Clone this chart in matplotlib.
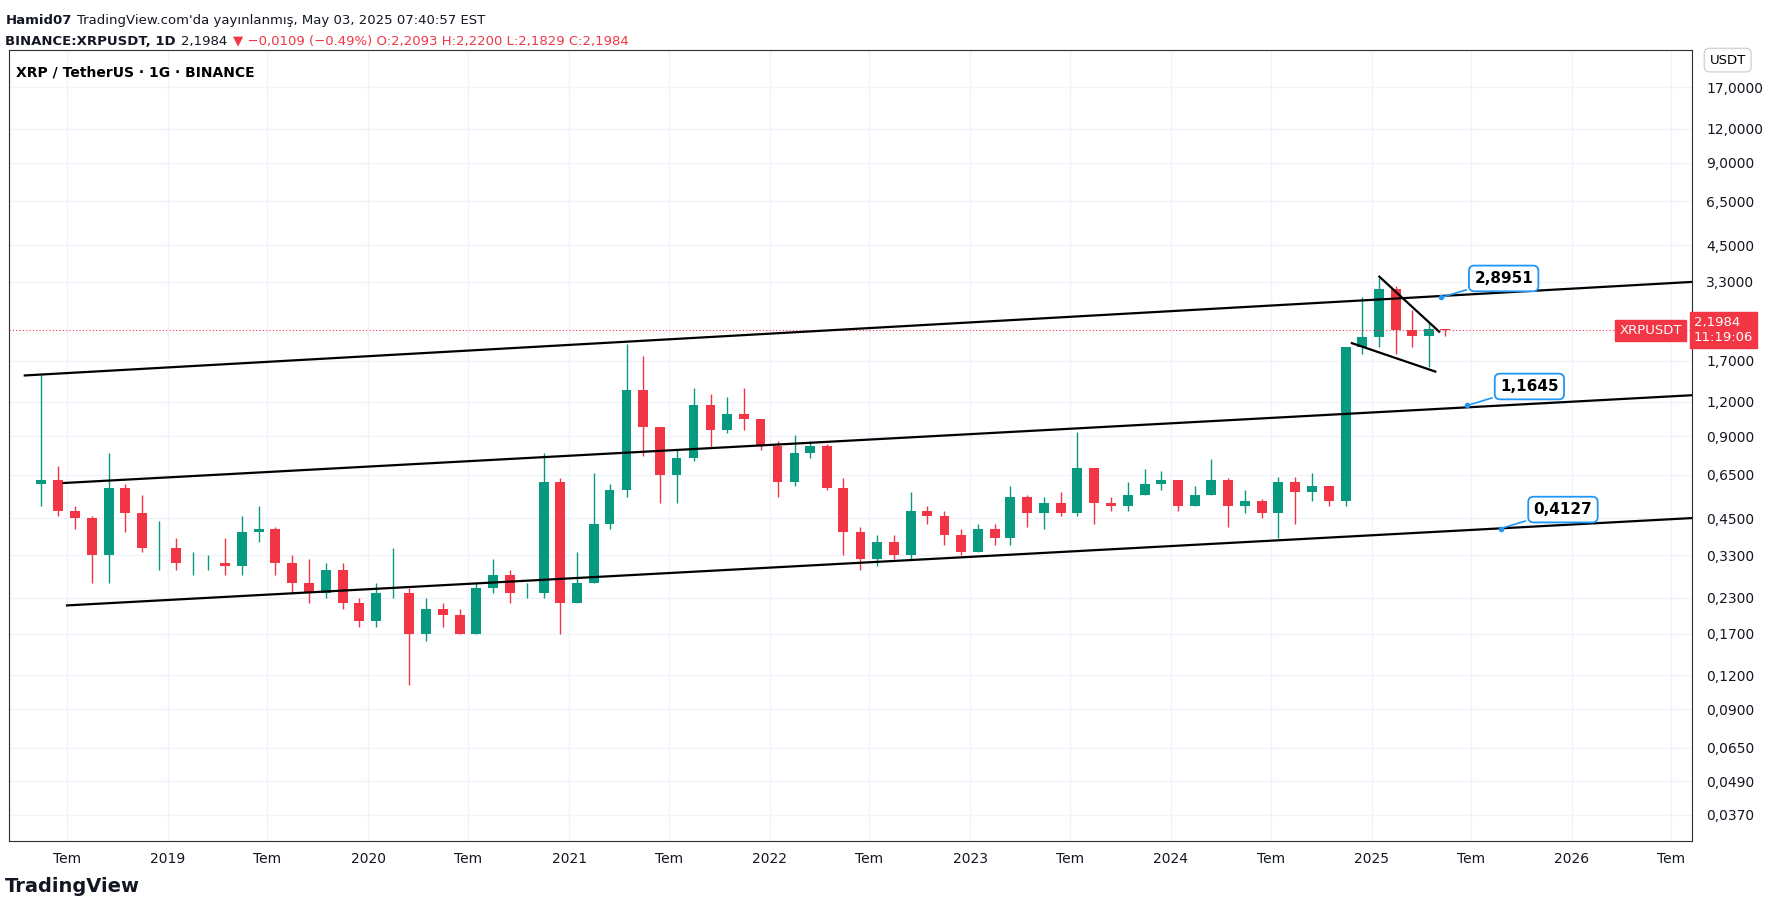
import matplotlib
matplotlib.use("Agg")
import matplotlib.pyplot as plt
import matplotlib.dates as mdates
import datetime as dt

plt.rcParams['font.family'] = 'DejaVu Sans'

# monthly candles
months = ['2018-05', '2018-06', '2018-07', '2018-08', '2018-09', '2018-10', '2018-11', '2018-12',
          '2019-01', '2019-02', '2019-03', '2019-04', '2019-05', '2019-06', '2019-07', '2019-08',
          '2019-09', '2019-10', '2019-11', '2019-12', '2020-01', '2020-02', '2020-03', '2020-04',
          '2020-05', '2020-06', '2020-07', '2020-08', '2020-09', '2020-10', '2020-11', '2020-12',
          '2021-01', '2021-02', '2021-03', '2021-04', '2021-05', '2021-06', '2021-07', '2021-08',
          '2021-09', '2021-10', '2021-11', '2021-12', '2022-01', '2022-02', '2022-03', '2022-04',
          '2022-05', '2022-06', '2022-07', '2022-08', '2022-09', '2022-10', '2022-11', '2022-12',
          '2023-01', '2023-02', '2023-03', '2023-04', '2023-05', '2023-06', '2023-07', '2023-08',
          '2023-09', '2023-10', '2023-11', '2023-12', '2024-01', '2024-02', '2024-03', '2024-04',
          '2024-05', '2024-06', '2024-07', '2024-08', '2024-09', '2024-10', '2024-11', '2024-12',
          '2025-01', '2025-02', '2025-03', '2025-04', '2025-05']
opens = [0.60, 0.62, 0.48, 0.45, 0.33, 0.58, 0.47, 0.35, 0.35, 0.31, 0.31, 0.31, 0.30, 0.40, 0.41, 0.31,
         0.26, 0.24, 0.29, 0.22, 0.19, 0.24, 0.24, 0.17, 0.21, 0.20, 0.17, 0.25, 0.28, 0.24, 0.24, 0.61,
         0.22, 0.26, 0.43, 0.57, 1.33, 0.97, 0.65, 0.75, 1.17, 0.95, 1.08, 1.04, 0.83, 0.61, 0.78, 0.83,
         0.58, 0.40, 0.32, 0.37, 0.33, 0.48, 0.46, 0.39, 0.34, 0.41, 0.38, 0.54, 0.47, 0.51, 0.47, 0.69,
         0.51, 0.50, 0.55, 0.60, 0.62, 0.50, 0.55, 0.62, 0.50, 0.52, 0.47, 0.61, 0.56, 0.59, 0.52, 1.90,
         2.08, 3.11, 2.20, 2.09, 2.21]
highs = [1.50, 0.70, 0.50, 0.46, 0.78, 0.60, 0.55, 0.44, 0.38, 0.34, 0.33, 0.38, 0.46, 0.50, 0.42, 0.33,
         0.32, 0.31, 0.31, 0.23, 0.26, 0.35, 0.25, 0.23, 0.22, 0.21, 0.26, 0.32, 0.29, 0.26, 0.78, 0.63,
         0.34, 0.66, 0.60, 1.96, 1.76, 0.96, 0.80, 1.35, 1.28, 1.25, 1.35, 1.04, 0.86, 0.91, 0.86, 0.84,
         0.63, 0.42, 0.39, 0.39, 0.56, 0.50, 0.48, 0.41, 0.43, 0.43, 0.59, 0.55, 0.54, 0.56, 0.93, 0.69,
         0.54, 0.61, 0.68, 0.67, 0.62, 0.59, 0.74, 0.63, 0.57, 0.53, 0.64, 0.64, 0.66, 0.59, 1.90, 2.90,
         3.40, 3.20, 2.60, 2.35, 2.22]
lows = [0.50, 0.46, 0.41, 0.26, 0.26, 0.40, 0.34, 0.29, 0.29, 0.28, 0.29, 0.28, 0.28, 0.37, 0.28, 0.24,
        0.22, 0.23, 0.21, 0.18, 0.18, 0.23, 0.11, 0.16, 0.18, 0.17, 0.17, 0.24, 0.22, 0.23, 0.23, 0.17,
        0.22, 0.26, 0.41, 0.54, 0.76, 0.51, 0.51, 0.73, 0.82, 0.92, 0.95, 0.80, 0.54, 0.59, 0.75, 0.57,
        0.33, 0.29, 0.30, 0.32, 0.32, 0.43, 0.36, 0.33, 0.34, 0.36, 0.36, 0.42, 0.41, 0.46, 0.46, 0.43,
        0.48, 0.48, 0.55, 0.57, 0.48, 0.50, 0.55, 0.42, 0.47, 0.45, 0.38, 0.43, 0.52, 0.50, 0.50, 1.80,
        1.90, 1.80, 1.90, 1.61, 2.10]
closes = opens[1:] + [2.1984]

# trend lines (date, price)
upper_line = (['2018-04-15', '2026-08-08'], [1.50, 3.30])
mid_line = (['2018-06-25', '2026-08-08'], [0.606, 1.27])
low_line = (['2018-07-01', '2026-08-08'], [0.216, 0.451])
tri_top = (['2025-01-15', '2025-05-04'], [3.45, 2.17])
tri_bot = (['2024-11-26', '2025-04-27'], [1.97, 1.55])
callouts = [('2025-05-08', 2.8951, '2,8951'), ('2025-06-24', 1.1645, '1,1645'),
            ('2025-08-24', 0.4127, '0,4127')]
yticks = [0.037, 0.049, 0.065, 0.09, 0.12, 0.17, 0.23, 0.33, 0.45, 0.65, 0.9, 1.2, 1.7, 3.3, 4.5,
          6.5, 9.0, 12.0, 17.0]
last_price = 2.1984

def d(s):
    return mdates.date2num(dt.datetime.strptime(s, '%Y-%m-%d'))

W, H = 1772, 909
fig = plt.figure(figsize=(W / 100, H / 100), dpi=100)
ax = fig.add_axes([0.005, 0.075, 0.95, 0.87])
ax.set_yscale('log')
ax.set_ylim(0.0297, 23.3)
ax.set_xlim(d('2018-03-17'), d('2026-08-08'))
ax.set_axisbelow(True)

green, red = '#089981', '#f23645'
for m, o, h, l, c in zip(months, opens, highs, lows, closes):
    x = d(m + '-15')
    col = green if c >= o else red
    ax.vlines(x, l, h, color=col, lw=1, zorder=2)
    ax.bar(x, abs(c - o), bottom=min(o, c), width=18, color=col, lw=0, zorder=2)

for dates, vals in [upper_line, mid_line, low_line, tri_top, tri_bot]:
    ax.plot([d(s) for s in dates], vals, color='black', lw=1.6, zorder=3)

for ds, v, txt in callouts:
    x = d(ds)
    ax.plot(x, v, 'o', color='#2196f3', ms=3, zorder=4)
    ax.annotate(txt, xy=(x, v), xytext=(x + 60, v * 1.13), fontsize=11, fontweight='bold',
                bbox=dict(boxstyle='round,pad=0.35', fc='white', ec='#2196f3', lw=1.3),
                arrowprops=dict(arrowstyle='-', color='#2196f3', lw=1.2))

ax.axhline(last_price, color=red, lw=0.8, ls=(0, (1, 2)))

ax.yaxis.tick_right()
ax.set_yticks(yticks)
ax.set_yticklabels([('%.4f' % t).replace('.', ',') for t in yticks])
ax.yaxis.set_minor_locator(matplotlib.ticker.NullLocator())
ax.tick_params(axis='y', length=0, labelsize=10, colors='#131722', pad=10)

xt, xl = [], []
for yr in range(2018, 2027):
    if yr > 2018:
        xt.append(d('%d-01-01' % yr)); xl.append(str(yr))
    xt.append(d('%d-07-01' % yr)); xl.append('Tem')
ax.set_xticks(xt)
ax.set_xticklabels(xl, fontsize=10, color='#131722')
ax.tick_params(axis='x', length=0, pad=8)
ax.grid(True, color='#f0f3fa', lw=1)
for s in ax.spines.values():
    s.set_color('#2a2e39'); s.set_linewidth(0.8)

yl = ax.transData.transform((0, last_price))[1] / H
ax.text(0.956, yl, '2,1984\n11:19:06', transform=fig.transFigure, fontsize=9.5, color='white',
        va='center', ha='left', bbox=dict(fc=red, ec=red, boxstyle='square,pad=0.3'))
ax.text(0.949, yl, 'XRPUSDT', transform=fig.transFigure, fontsize=9.5, color='white',
        va='center', ha='right', bbox=dict(fc=red, ec=red, boxstyle='square,pad=0.3'))
ax.text(0.975, 0.93, 'USDT', transform=fig.transFigure, fontsize=9.5, ha='center',
        bbox=dict(fc='white', ec='#d1d4dc', boxstyle='round,pad=0.4'))

renderer = fig.canvas.get_renderer()

def text_row(y, parts):
    x = 0.003
    for txt, weight, col in parts:
        t = fig.text(x, y, txt, fontsize=9.5, fontweight=weight, color=col, va='top')
        x = t.get_window_extent(renderer).x1 / W + 0.003

text_row(0.985, [("Hamid07", 'bold', '#131722'),
                 ("TradingView.com'da yayınlanmış, May 03, 2025 07:40:57 EST", 'normal', '#131722')])
text_row(0.962, [("BINANCE:XRPUSDT, 1D", 'bold', '#131722'), ("2,1984", 'normal', '#131722'),
                 ("▼ −0,0109 (−0.49%) O:2,2093 H:2,2200 L:2,1829 C:2,1984", 'normal', red)])
fig.text(0.009, 0.928, "XRP / TetherUS · 1G · BINANCE", fontsize=10, fontweight='bold', va='top')
fig.text(0.003, 0.025, "TradingView", fontsize=14, fontweight='bold', va='center', color='#131722')

fig.savefig('out.png', dpi=100)
